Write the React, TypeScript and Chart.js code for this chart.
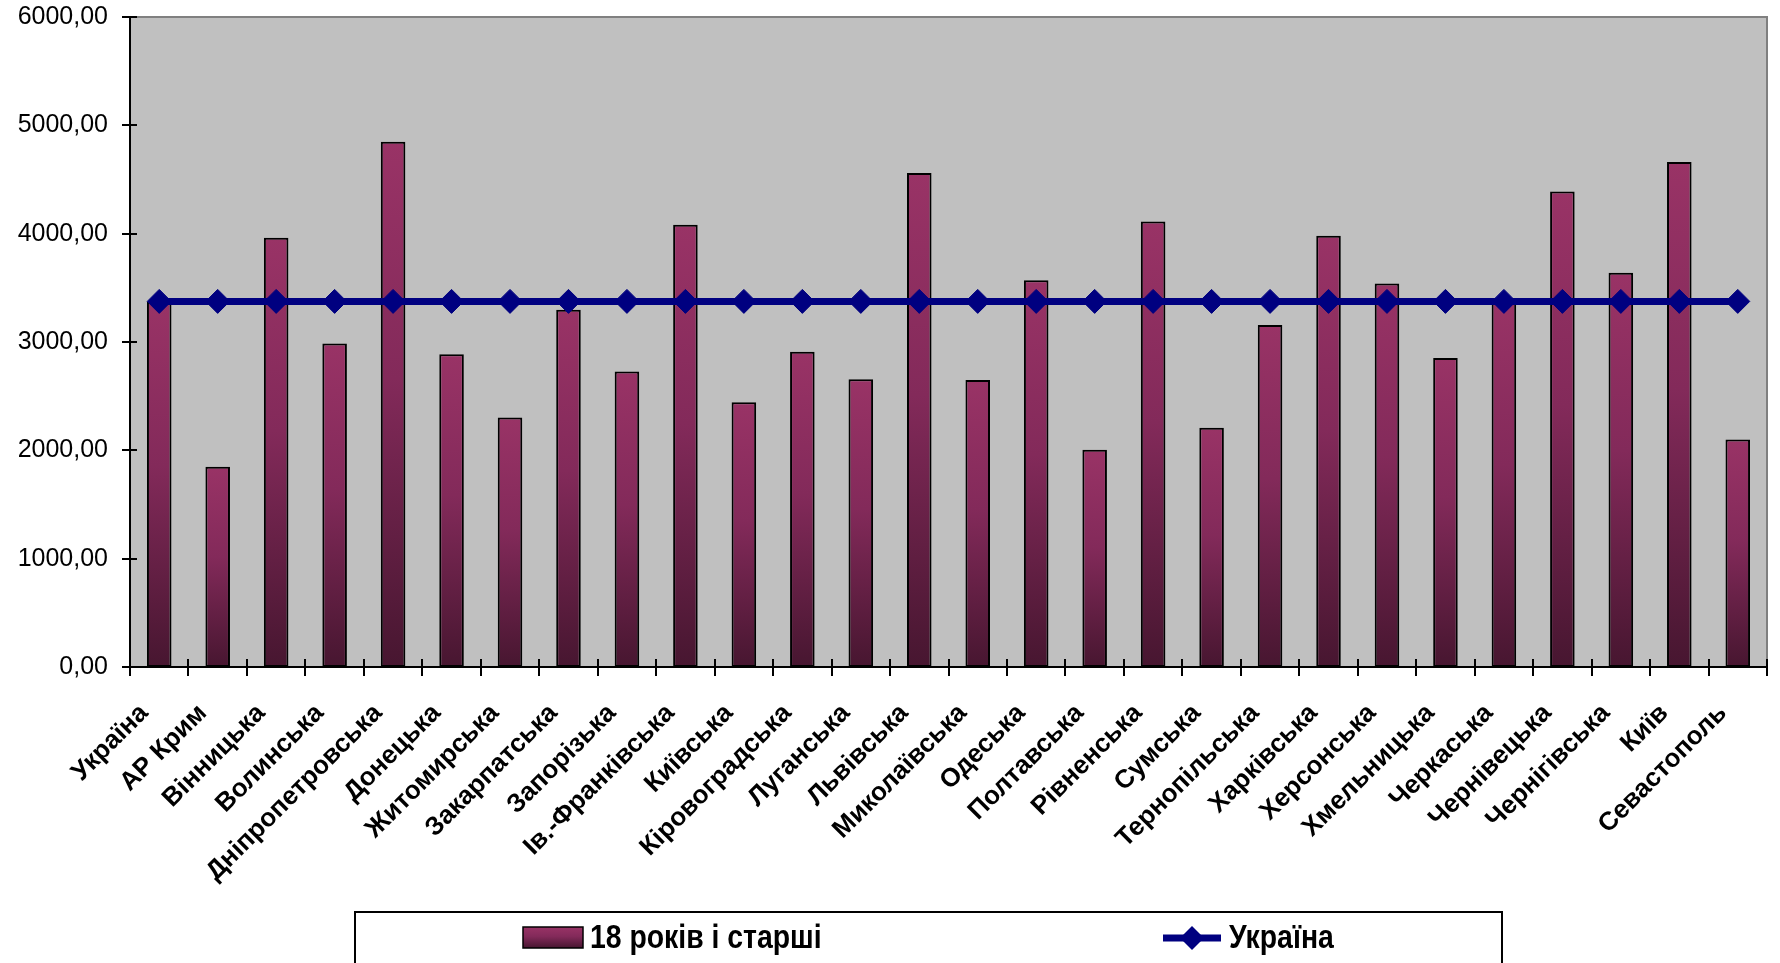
import React, { useEffect, useRef } from 'react';
import { Chart, registerables } from 'chart.js';

Chart.register(...registerables);

const categories = [
  'Україна', 'АР Крим', 'Вінницька', 'Волинська', 'Дніпропетровська', 'Донецька',
  'Житомирська', 'Закарпатська', 'Запорізька', 'Ів.-Франківська', 'Київська',
  'Кіровоградська', 'Луганська', 'Львівська', 'Миколаївська', 'Одеська', 'Полтавська',
  'Рівненська', 'Сумська', 'Тернопільська', 'Харківська', 'Херсонська', 'Хмельницька',
  'Черкаська', 'Чернівецька', 'Чернігівська', 'Київ', 'Севастополь',
];

const adultValues = [
  3375, 1849, 3962, 2986, 4849, 2887, 2302, 3297, 2727, 4082, 2444, 2909, 2656, 4560,
  2650, 3571, 2006, 4113, 2209, 3158, 3981, 3540, 2853, 3390, 4390, 3639, 4661, 2099,
];

const ukraineValues = [
  3375, 3375, 3375, 3375, 3375, 3375, 3375, 3375, 3375, 3375, 3375, 3375, 3375, 3375,
  3375, 3375, 3375, 3375, 3375, 3375, 3375, 3375, 3375, 3375, 3375, 3375, 3375, 3375,
];

const yTickValues = [0, 1000, 2000, 3000, 4000, 5000, 6000];

const barLabel = '18 років і старші';
const lineLabel = 'Україна';

const BAR_TOP = '#993366';
const BAR_MID = '#832a5a';
const BAR_BOTTOM = '#471630';
const LINE_COLOR = '#000080';

function barGradient(ctx: CanvasRenderingContext2D, top: number, bottom: number) {
  const g = ctx.createLinearGradient(0, top, 0, bottom);
  g.addColorStop(0, BAR_TOP);
  g.addColorStop(0.45, BAR_MID);
  g.addColorStop(1, BAR_BOTTOM);
  return g;
}

function drawDiamond(ctx: CanvasRenderingContext2D, x: number, y: number, r: number) {
  ctx.beginPath();
  ctx.moveTo(x, y - r);
  ctx.lineTo(x + r, y);
  ctx.lineTo(x, y + r);
  ctx.lineTo(x - r, y);
  ctx.closePath();
  ctx.fill();
}

function drawNarrowText(ctx: CanvasRenderingContext2D, text: string, x: number, y: number) {
  ctx.save();
  ctx.translate(x, y);
  ctx.scale(0.86, 1);
  ctx.fillText(text, 0, 0);
  ctx.restore();
}

const framePlugin = {
  id: 'frame',
  beforeDatasetsDraw(chart: any) {
    const { ctx, chartArea: a } = chart;
    ctx.save();
    ctx.fillStyle = '#c0c0c0';
    ctx.fillRect(a.left, a.top, a.right - a.left, a.bottom - a.top);
    ctx.restore();
  },
  afterDatasetsDraw(chart: any) {
    const { ctx, chartArea: a, scales } = chart;
    const x = scales.x;
    const y = scales.y;
    ctx.save();
    ctx.strokeStyle = '#808080';
    ctx.lineWidth = 2;
    ctx.beginPath();
    ctx.moveTo(a.left, a.top);
    ctx.lineTo(a.right, a.top);
    ctx.lineTo(a.right, a.bottom);
    ctx.stroke();
    ctx.strokeStyle = '#000000';
    ctx.lineWidth = 2;
    ctx.beginPath();
    ctx.moveTo(a.left, a.top);
    ctx.lineTo(a.left, a.bottom);
    ctx.lineTo(a.right, a.bottom);
    ctx.stroke();
    ctx.beginPath();
    y.ticks.forEach((_t: any, i: number) => {
      const py = Math.round(y.getPixelForTick(i));
      ctx.moveTo(a.left - 8, py);
      ctx.lineTo(a.left + 7, py);
    });
    for (let i = 0; i <= categories.length; i++) {
      const px = Math.round(x.getPixelForValue(i - 0.5));
      ctx.moveTo(px, a.bottom - 8);
      ctx.lineTo(px, a.bottom + 9);
    }
    ctx.stroke();
    ctx.restore();
  },
  afterDraw(chart: any) {
    const { ctx } = chart;
    const ds = chart.data.datasets;
    const barDs = ds.find((d: any) => d.type === 'bar');
    const lineDs = ds.find((d: any) => d.type === 'line');
    ctx.save();
    ctx.fillStyle = '#ffffff';
    ctx.fillRect(355, 912, 1147, 80);
    ctx.strokeStyle = '#000000';
    ctx.lineWidth = 2;
    ctx.strokeRect(355, 912, 1147, 80);
    const cy = 938;
    ctx.fillStyle = barGradient(ctx, 927, 948);
    ctx.fillRect(523, 927, 60, 21);
    ctx.lineWidth = 1.5;
    ctx.strokeRect(523, 927, 60, 21);
    ctx.fillStyle = '#000000';
    ctx.font = 'bold 33px "Liberation Sans", Arial, sans-serif';
    ctx.textBaseline = 'middle';
    ctx.textAlign = 'left';
    drawNarrowText(ctx, barDs.label, 590, cy + 1);
    ctx.strokeStyle = LINE_COLOR;
    ctx.lineWidth = 7;
    ctx.beginPath();
    ctx.moveTo(1163, cy);
    ctx.lineTo(1221, cy);
    ctx.stroke();
    ctx.fillStyle = LINE_COLOR;
    drawDiamond(ctx, 1192, cy, 12);
    ctx.fillStyle = '#000000';
    drawNarrowText(ctx, lineDs.label, 1229, cy + 1);
    ctx.restore();
  },
};

export default function App() {
  const canvasRef = useRef<HTMLCanvasElement | null>(null);

  useEffect(() => {
    const canvas = canvasRef.current;
    if (!canvas) return;
    const chart = new Chart(canvas, {
      type: 'bar',
      data: {
        labels: categories,
        datasets: [
          {
            type: 'line',
            label: lineLabel,
            data: ukraineValues,
            borderColor: LINE_COLOR,
            backgroundColor: LINE_COLOR,
            borderWidth: 7,
            pointStyle: 'rectRot',
            pointRadius: 12,
            pointBackgroundColor: LINE_COLOR,
            pointBorderColor: LINE_COLOR,
            pointBorderWidth: 1,
            fill: false,
            tension: 0,
            order: 0,
          } as any,
          {
            type: 'bar',
            label: barLabel,
            data: adultValues,
            backgroundColor: (c: any) => {
              const ch = c.chart;
              const ys = ch.scales && ch.scales.y;
              if (!ch.chartArea || !ys || c.parsed == null) return BAR_TOP;
              const top = ys.getPixelForValue(c.parsed.y);
              const bottom = ys.getPixelForValue(0);
              return barGradient(ch.ctx, top, bottom);
            },
            borderColor: '#000000',
            borderWidth: 2,
            borderSkipped: false,
            barPercentage: 0.84,
            categoryPercentage: 0.5,
            order: 1,
          } as any,
        ],
      },
      options: {
        animation: false,
        responsive: true,
        maintainAspectRatio: false,
        layout: { padding: { top: 17, right: 1, left: 0, bottom: 0 } },
        plugins: {
          legend: { display: false },
          tooltip: { enabled: false },
          title: { display: false },
        },
        scales: {
          x: {
            grid: { display: false, drawTicks: true, tickLength: 8 },
            border: { display: false },
            ticks: {
              autoSkip: false,
              maxRotation: 45,
              minRotation: 45,
              padding: 23,
              labelOffset: -15,
              color: '#000000',
              font: { family: '"Liberation Sans", Arial, sans-serif', size: 26, weight: 'bold' },
            },
            afterFit: (s: any) => {
              s.height = 296;
              s.paddingLeft = 0;
              s.paddingRight = 0;
            },
          },
          y: {
            min: 0,
            max: 6000,
            grid: { display: false, drawTicks: true, tickLength: 8 },
            border: { display: false },
            afterBuildTicks: (s: any) => {
              s.ticks = yTickValues.map((v) => ({ value: v }));
            },
            ticks: {
              padding: 14,
              color: '#000000',
              font: { family: '"Liberation Sans", Arial, sans-serif', size: 25 },
              callback: (v: any) => Number(v).toFixed(2).replace('.', ','),
            },
            afterFit: (s: any) => {
              s.width = 130;
              s.paddingTop = 0;
              s.paddingBottom = 0;
            },
          },
        },
      },
      plugins: [framePlugin],
    });
    return () => chart.destroy();
  }, []);

  return (
    <div style={{ position: 'fixed', left: 0, top: 0, width: 1780, height: 963, background: '#ffffff' }}>
      <canvas ref={canvasRef} />
    </div>
  );
}
